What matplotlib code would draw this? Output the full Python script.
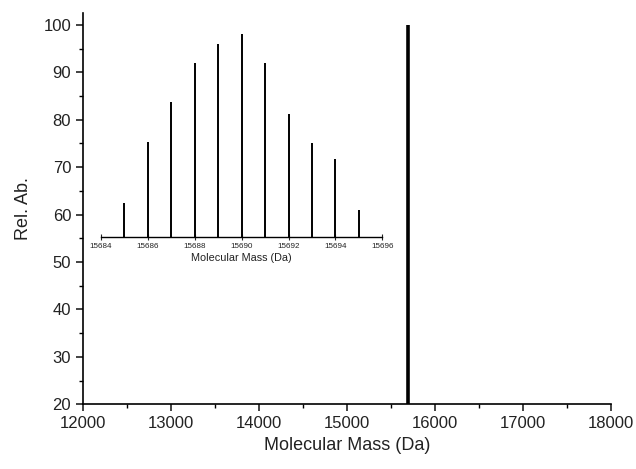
import matplotlib
matplotlib.use("Agg")
import matplotlib.pyplot as plt
from matplotlib.ticker import MultipleLocator

plt.rcParams['font.family'] = ['Liberation Sans', 'DejaVu Sans']

# Main spectrum
main_mass = [15690]
main_abund = [100]

# Inset isotope distribution
inset_mass = [15685, 15686, 15687, 15688, 15689, 15690, 15691, 15692, 15693, 15694, 15695]
inset_abund = [62.5, 75.4, 83.8, 91.9, 95.9, 98.1, 91.9, 81.2, 75.1, 71.8, 60.9]
inset_ticks = [15684, 15686, 15688, 15690, 15692, 15694, 15696]

fig = plt.figure(figsize=(6.36, 4.69), dpi=100)
ax = fig.add_axes([0.1305, 0.138, 0.8302, 0.8343])

ax.vlines(main_mass, 20, main_abund, color='black', lw=2.6)
ax.set_xlim(12000, 18000)
ax.set_ylim(20, 102.5)
ax.xaxis.set_major_locator(MultipleLocator(1000))
ax.xaxis.set_minor_locator(MultipleLocator(500))
ax.yaxis.set_major_locator(MultipleLocator(10))
ax.yaxis.set_minor_locator(MultipleLocator(5))
for s in ['top', 'right']:
    ax.spines[s].set_visible(False)
for s in ['left', 'bottom']:
    ax.spines[s].set_linewidth(1.2)
ax.tick_params(which='major', direction='out', length=5, width=1.2, labelsize=12, colors='#222222')
ax.tick_params(which='minor', direction='out', length=3, width=1.0)
ax.set_xlabel('Molecular Mass (Da)', fontsize=13, color='#222222', labelpad=4)
ax.set_ylabel('Rel. Ab.', fontsize=13, color='#222222', labelpad=8)

# Inset
y0, y1 = 55.2, 102.5
ins = ax.inset_axes([12204, y0, 15401 - 12204, y1 - y0], transform=ax.transData)
ins.patch.set_alpha(0)
ins.vlines(inset_mass, y0, inset_abund, color='black', lw=1.4)
ins.set_xlim(15684, 15696)
ins.set_ylim(y0, y1)
for s in ['top', 'right', 'left']:
    ins.spines[s].set_visible(False)
ins.spines['bottom'].set_linewidth(1.0)
ins.set_yticks([])
ins.set_xticks(inset_ticks)
ins.set_xticklabels([str(t) for t in inset_ticks])
ins.tick_params(axis='x', direction='inout', length=4, width=0.8, labelsize=5.8, pad=2, colors='#222222')
ins.set_xlabel('Molecular Mass (Da)', fontsize=7.8, labelpad=2, color='#222222')

fig.savefig('out.png', dpi=100)
